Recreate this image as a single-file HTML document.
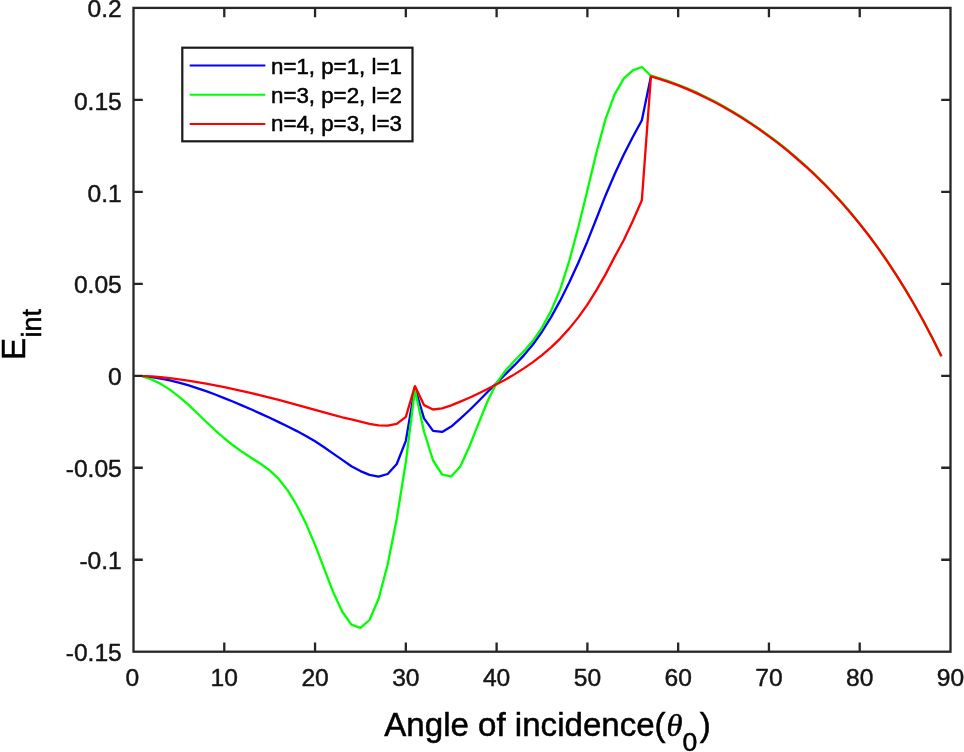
<!DOCTYPE html>
<html lang="en"><head><meta charset="utf-8"><title>E_int vs angle of incidence</title>
<style>html,body{margin:0;padding:0;background:#fff}body{width:964px;height:752px;overflow:hidden}</style></head>
<body>
<svg width="964" height="752" viewBox="0 0 964 752" style="display:block">
<rect width="964" height="752" fill="#fff"/>
<g fill="none" stroke-width="2.3" stroke-linejoin="round" stroke-linecap="butt">
<path d="M142.58,376.20 L151.66,377.13 L160.73,378.56 L169.81,380.41 L178.89,382.63 L187.97,385.19 L197.04,388.06 L206.12,391.18 L215.20,394.53 L224.28,398.07 L233.36,401.75 L242.43,405.58 L251.51,409.54 L260.59,413.63 L269.67,417.83 L278.74,422.14 L287.82,426.55 L296.90,431.10 L305.98,435.94 L315.06,441.29 L324.13,447.25 L333.21,453.57 L342.29,459.92 L351.37,466.30 L360.44,471.10 L369.52,474.90 L378.60,476.60 L387.68,474.00 L396.76,464.00 L405.83,440.80 L414.91,387.50 L423.99,418.40 L433.07,430.90 L442.14,431.90 L451.22,426.60 L460.30,418.70 L469.38,410.24 L478.46,401.19 L487.53,392.05 L496.61,382.95 L505.69,373.94 L514.77,364.94 L523.84,355.36 L532.92,344.50 L542.00,331.76 L551.08,317.12 L560.16,300.67 L569.23,282.52 L578.31,262.77 L587.39,241.43 L596.47,218.47 L605.54,195.44 L614.62,174.30 L623.70,154.80 L632.78,137.00 L641.86,120.30 L650.93,76.42" stroke="#0000ff"/>
<path d="M142.58,376.50 L151.66,379.48 L160.73,383.87 L169.81,389.61 L178.89,396.54 L187.97,404.45 L197.04,412.98 L206.12,421.73 L215.20,430.27 L224.28,438.25 L233.36,445.53 L242.43,452.08 L251.51,458.03 L260.59,463.76 L269.67,470.33 L278.74,478.93 L287.82,490.60 L296.90,505.49 L305.98,523.59 L315.06,544.85 L324.13,568.67 L333.21,592.12 L342.29,611.78 L351.37,624.70 L360.44,627.80 L369.52,620.00 L378.60,598.80 L387.68,564.50 L396.76,518.70 L405.83,462.00 L414.91,389.80 L423.99,431.50 L433.07,460.50 L442.14,474.50 L451.22,476.60 L460.30,466.50 L469.38,446.60 L478.46,423.55 L487.53,401.23 L496.61,382.92 L505.69,370.32 L514.77,360.52 L523.84,351.28 L532.92,340.85 L542.00,327.66 L551.08,310.87 L560.16,289.36 L569.23,261.07 L578.31,227.28 L587.39,190.19 L596.47,152.52 L605.54,119.03 L614.62,94.30 L623.70,78.70 L632.78,70.40 L641.86,67.00 L650.93,75.72 L660.01,78.36 L669.09,81.37 L678.17,84.72 L687.24,88.41 L696.32,92.41 L705.40,96.73 L714.48,101.36 L723.56,106.29 L732.63,111.53 L741.71,117.08 L750.79,122.94 L759.87,129.12 L768.94,135.64 L778.02,142.50 L787.10,149.72 L796.18,157.32 L805.26,165.32 L814.33,173.82 L823.41,182.76 L832.49,192.19 L841.57,202.12 L850.64,212.60 L859.72,223.66 L868.80,235.34 L877.88,247.69 L886.96,260.74 L896.03,274.54 L905.11,289.08 L914.19,304.47 L923.27,320.78 L932.34,338.05 L941.42,356.35" stroke="#00ff00"/>
<path d="M142.58,376.10 L151.66,376.42 L160.73,377.23 L169.81,378.20 L178.89,379.33 L187.97,380.62 L197.04,382.04 L206.12,383.61 L215.20,385.30 L224.28,387.11 L233.36,389.03 L242.43,391.05 L251.51,393.16 L260.59,395.36 L269.67,397.63 L278.74,399.96 L287.82,402.36 L296.90,404.80 L305.98,407.28 L315.06,409.79 L324.13,412.32 L333.21,414.83 L342.29,417.26 L351.37,419.30 L360.44,421.60 L369.52,423.90 L378.60,425.30 L387.68,425.60 L396.76,423.90 L405.83,416.90 L414.91,386.10 L423.99,405.10 L433.07,409.50 L442.14,408.30 L451.22,405.40 L460.30,401.60 L469.38,397.79 L478.46,393.45 L487.53,388.98 L496.61,384.33 L505.69,379.41 L514.77,374.13 L523.84,368.38 L532.92,362.09 L542.00,355.13 L551.08,347.35 L560.16,338.57 L569.23,328.63 L578.31,317.35 L587.39,304.55 L596.47,290.14 L605.54,274.35 L614.62,256.90 L623.70,240.20 L632.78,221.00 L641.86,200.20 L650.93,76.42 L660.01,79.06 L669.09,82.07 L678.17,85.42 L687.24,89.11 L696.32,93.11 L705.40,97.43 L714.48,102.06 L723.56,106.99 L732.63,112.23 L741.71,117.78 L750.79,123.64 L759.87,129.82 L768.94,136.34 L778.02,143.20 L787.10,150.42 L796.18,158.02 L805.26,166.02 L814.33,174.45 L823.41,183.32 L832.49,192.68 L841.57,202.54 L850.64,212.95 L859.72,223.94 L868.80,235.55 L877.88,247.83 L886.96,260.81 L896.03,274.54 L905.11,289.08 L914.19,304.47 L923.27,320.78 L932.34,338.05 L941.42,356.35" stroke="#ff0000"/>
</g>
<g stroke="#262626" stroke-width="2.3" fill="none" stroke-linecap="square">
<rect x="133.5" y="7.9" width="817.0" height="643.8000000000001"/>
</g>
<g stroke="#262626" stroke-width="2.3" fill="none">
<path d="M224.28,651.7 v-9.3 M224.28,7.9 v9.3"/>
<path d="M315.06,651.7 v-9.3 M315.06,7.9 v9.3"/>
<path d="M405.83,651.7 v-9.3 M405.83,7.9 v9.3"/>
<path d="M496.61,651.7 v-9.3 M496.61,7.9 v9.3"/>
<path d="M587.39,651.7 v-9.3 M587.39,7.9 v9.3"/>
<path d="M678.17,651.7 v-9.3 M678.17,7.9 v9.3"/>
<path d="M768.94,651.7 v-9.3 M768.94,7.9 v9.3"/>
<path d="M859.72,651.7 v-9.3 M859.72,7.9 v9.3"/>
<path d="M133.5,99.87 h9.3 M950.5,99.87 h-9.3"/>
<path d="M133.5,191.84 h9.3 M950.5,191.84 h-9.3"/>
<path d="M133.5,283.81 h9.3 M950.5,283.81 h-9.3"/>
<path d="M133.5,375.79 h9.3 M950.5,375.79 h-9.3"/>
<path d="M133.5,467.76 h9.3 M950.5,467.76 h-9.3"/>
<path d="M133.5,559.73 h9.3 M950.5,559.73 h-9.3"/>
</g>
<g font-family="'Liberation Sans', Arial, Helvetica, sans-serif" fill="#151515" stroke="#151515" stroke-width="0.45" font-size="24.6">
<text x="132.30" y="686.3" text-anchor="middle">0</text>
<text x="224.28" y="686.3" text-anchor="middle">10</text>
<text x="315.06" y="686.3" text-anchor="middle">20</text>
<text x="405.83" y="686.3" text-anchor="middle">30</text>
<text x="496.61" y="686.3" text-anchor="middle">40</text>
<text x="587.39" y="686.3" text-anchor="middle">50</text>
<text x="678.17" y="686.3" text-anchor="middle">60</text>
<text x="768.94" y="686.3" text-anchor="middle">70</text>
<text x="859.72" y="686.3" text-anchor="middle">80</text>
<text x="950.50" y="686.3" text-anchor="middle">90</text>
<text x="121.8" y="17.20" text-anchor="end">0.2</text>
<text x="121.8" y="109.87" text-anchor="end">0.15</text>
<text x="121.8" y="201.64" text-anchor="end">0.1</text>
<text x="121.8" y="293.01" text-anchor="end">0.05</text>
<text x="121.8" y="385.19" text-anchor="end">0</text>
<text x="121.8" y="476.56" text-anchor="end">-0.05</text>
<text x="121.8" y="568.73" text-anchor="end">-0.1</text>
<text x="121.8" y="660.80" text-anchor="end">-0.15</text>
</g>
<g font-family="'Liberation Sans', Arial, Helvetica, sans-serif" fill="#000">
<g stroke="#000" stroke-width="0.5">
<text x="384.3" y="735.7" font-size="33.1">Angle of incidence(</text>
<text x="666.6" y="735.7" font-size="32.5" font-style="italic" font-family="'Liberation Serif', 'DejaVu Serif', serif">θ</text>
<text x="682.6" y="751.0" font-size="26.6">0</text>
<text x="699.7" y="735.7" font-size="33.1">)</text>
</g>
<g stroke="#000" stroke-width="0.5">
<text transform="translate(24.5,360.1) rotate(-90)" font-size="33.1">E</text>
<text transform="translate(40.6,337.6) rotate(-90)" font-size="27.0">int</text>
</g>
</g>
<rect x="182.3" y="47.7" width="230.2" height="93.6" fill="#fff" stroke="#1a1a1a" stroke-width="2.2"/>
<g stroke-width="2" fill="none">
<path d="M189.7,65.4 H265.3" stroke="#0000ff"/>
<path d="M189.7,94.7 H265.3" stroke="#00ff00"/>
<path d="M189.7,124 H265.3" stroke="#ff0000"/>
</g>
<g font-family="'Liberation Sans', Arial, Helvetica, sans-serif" fill="#000" stroke="#000" stroke-width="0.5" font-size="22.3">
<text x="271.0" y="73.7">n=1, p=1, l=1</text>
<text x="271.0" y="102.5">n=3, p=2, l=2</text>
<text x="271.0" y="131.29999999999998">n=4, p=3, l=3</text>
</g>
</svg>
</body></html>
